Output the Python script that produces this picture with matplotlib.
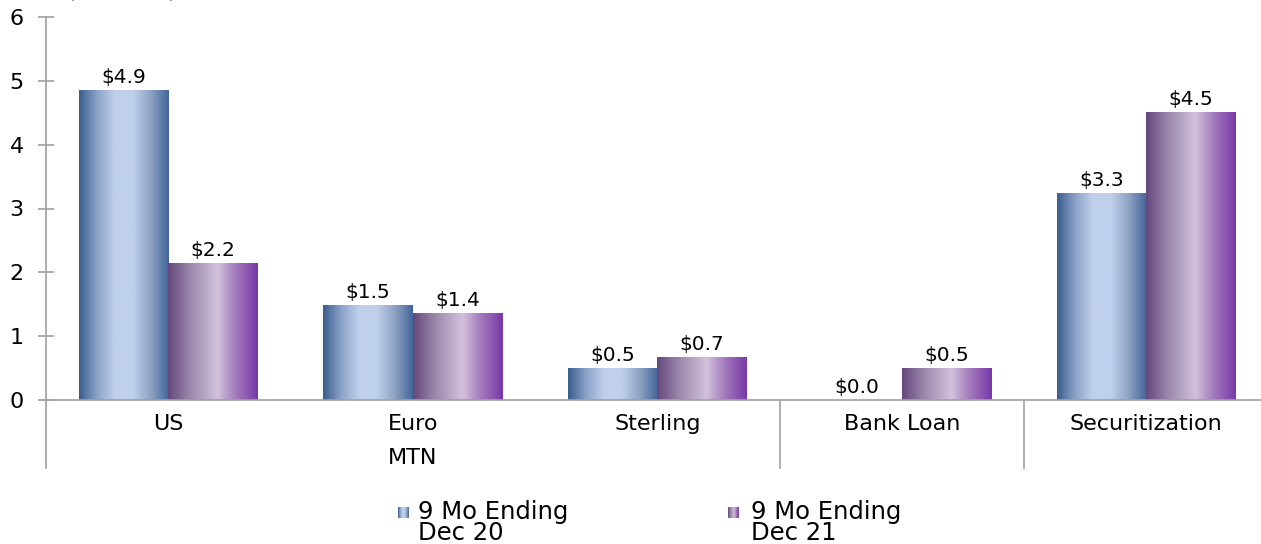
import numpy as np
import matplotlib
matplotlib.use("Agg")
import matplotlib.pyplot as plt
from matplotlib.colors import LinearSegmentedColormap

plt.rcParams['font.family'] = ['DejaVu Sans']

# data
categories = ['US', 'Euro', 'Sterling', 'Bank Loan', 'Securitization']
dec20 = [4.86, 1.49, 0.50, 0.0, 3.24]
dec21 = [2.15, 1.37, 0.68, 0.50, 4.51]
dec20_labels = ['$4.9', '$1.5', '$0.5', '$0.0', '$3.3']
dec21_labels = ['$2.2', '$1.4', '$0.7', '$0.5', '$4.5']
series_names = ['9 Mo Ending\nDec 20', '9 Mo Ending\nDec 21']

blue_cmap = LinearSegmentedColormap.from_list('blue', [
    (0.0, '#3a5d8e'), (0.2, '#8aa2c8'), (0.4, '#c0d0ec'), (0.6, '#c0d0ec'),
    (0.8, '#8ea2c2'), (1.0, '#426599')])
purple_cmap = LinearSegmentedColormap.from_list('purple', [
    (0.0, '#64487c'), (0.25, '#9c88ac'), (0.55, '#d2c2dc'), (0.75, '#a47cbc'),
    (1.0, '#7838a8')])
grad = np.linspace(0, 1, 256).reshape(1, -1)

fig = plt.figure(figsize=(12.61, 5.44), dpi=100)
ppu = (400 - 17) / 6.0
ybot = -(468 - 400) / ppu
ax = fig.add_axes([46 / 1261, (544 - 468) / 544, 5 * 244.5 / 1261, (468 - 17) / 544])

x = np.arange(len(categories))
w = 89.5 / 244.5


def grad_bars(xpos, vals, cmap):
    bars = ax.bar(xpos, vals, w, color='none', edgecolor='none', zorder=2)
    for b in bars:
        if b.get_height() <= 0:
            continue
        x0, y0 = b.get_x(), b.get_y()
        im = ax.imshow(grad, cmap=cmap, aspect='auto', interpolation='bicubic',
                       extent=[x0, x0 + b.get_width(), y0, y0 + b.get_height()],
                       zorder=2)
        im.set_clip_path(b)
    return bars


b1 = grad_bars(x - w / 2, dec20, blue_cmap)
b2 = grad_bars(x + w / 2, dec21, purple_cmap)
ax.set_xlim(-0.5, 4.5)
ax.set_ylim(ybot, 6)

for bars, labs in [(b1, dec20_labels), (b2, dec21_labels)]:
    for b, lab in zip(bars, labs):
        ax.annotate(lab, (b.get_x() + b.get_width() / 2, b.get_height()),
                    xytext=(0, 2), textcoords='offset points',
                    ha='center', va='bottom', fontsize=14.5, color='black')

# axes styling
for s in ['top', 'right', 'bottom']:
    ax.spines[s].set_visible(False)
ax.spines['left'].set_color('#a0a0a0')
ax.spines['left'].set_linewidth(1.2)
ax.axhline(0, color='#a0a0a0', lw=1.2, zorder=3, clip_on=False)
ax.set_yticks(range(0, 7))
ax.tick_params(axis='y', direction='inout', length=12, width=1.2, color='#a0a0a0',
               labelsize=16, pad=10)
ax.set_xticks([])

# category labels
for xi, c in zip(x, categories):
    ax.text(xi, -(424 - 400) / ppu, c, ha='center', va='center', fontsize=16)
ax.text(1, -(458 - 400) / ppu, 'MTN', ha='center', va='center', fontsize=16)
for xs in [2.5, 3.5]:
    ax.plot([xs, xs], [0, ybot], color='#a0a0a0', lw=1.2, clip_on=False)

# unit label, cut off at the top as in the source
fig.text(68 / 1261, 1 + 2 / 544, '(in billions)', fontsize=14, va='baseline', ha='left')

# legend
for (lx, tx), cmap, name in zip([(398, 418), (728, 751)], [blue_cmap, purple_cmap], series_names):
    lax = fig.add_axes([lx / 1261, (544 - 518) / 544, 11 / 1261, 11 / 544])
    lax.imshow(grad, cmap=cmap, aspect='auto', interpolation='bicubic')
    lax.axis('off')
    fig.text(tx / 1261, (544 - 500) / 544, name, fontsize=17.5, va='top', ha='left',
             linespacing=0.82)

fig.savefig('out.png', dpi=100)
